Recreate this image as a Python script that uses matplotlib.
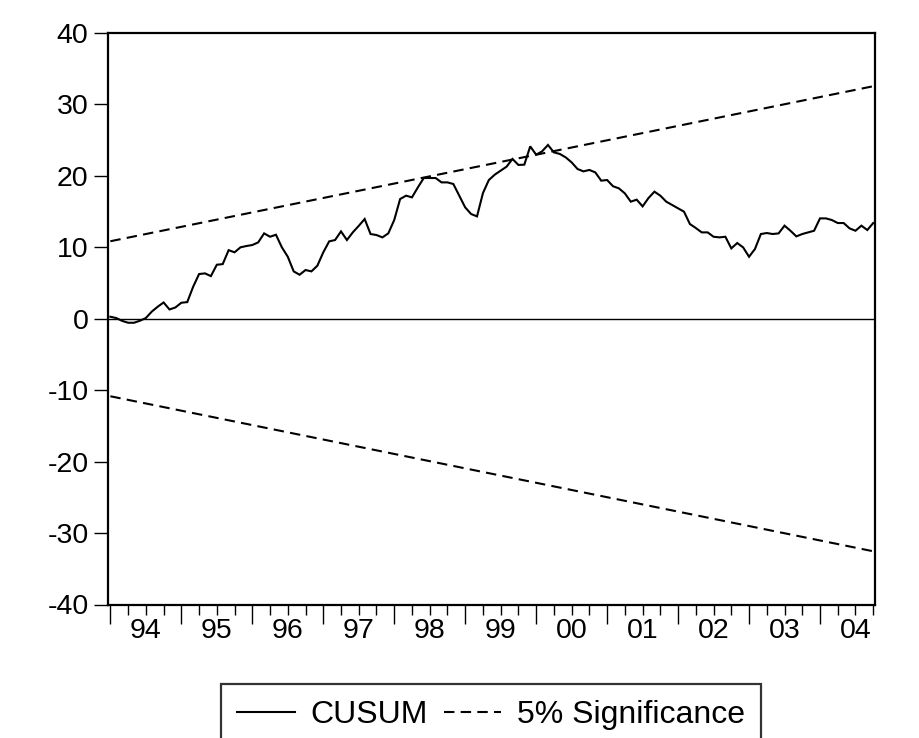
import numpy as np
import matplotlib
matplotlib.use("Agg")
import matplotlib.pyplot as plt
from matplotlib.transforms import blended_transform_factory

plt.rcParams['font.family'] = ['Liberation Sans', 'DejaVu Sans']

# ---- data (monthly, Jan 1994 .. Oct 2004) ----
cusum = [0.28, 0.10, -0.30, -0.56, -0.56, -0.28, 0.10, 1.00, 1.68, 2.28,
         1.30, 1.58, 2.24, 2.33, 4.48, 6.26, 6.35, 5.97, 7.56, 7.65,
         9.60, 9.30, 10.00, 10.18, 10.32, 10.69, 11.95, 11.48, 11.76, 10.00,
         8.68, 6.63, 6.16, 6.82, 6.63, 7.42, 9.29, 10.83, 11.02, 12.23,
         11.02, 12.10, 13.00, 13.96, 11.86, 11.72, 11.39, 11.95, 13.82, 16.76,
         17.23, 16.99, 18.39, 19.70, 19.70, 19.70, 19.09, 19.09, 18.86, 17.23,
         15.59, 14.66, 14.33, 17.58, 19.42, 20.17, 20.73, 21.29, 22.37, 21.53,
         21.57, 24.13, 22.97, 23.43, 24.33, 23.29, 23.07, 22.59, 21.89, 20.96,
         20.63, 20.83, 20.49, 19.33, 19.42, 18.55, 18.25, 17.55, 16.39, 16.67,
         15.73, 16.90, 17.79, 17.23, 16.39, 15.92, 15.45, 14.99, 13.26, 12.70,
         12.09, 12.09, 11.48, 11.39, 11.48, 9.85, 10.60, 9.99, 8.68, 9.76,
         11.86, 12.00, 11.86, 11.95, 13.03, 12.32, 11.53, 11.86, 12.09, 12.32,
         14.05, 14.05, 13.82, 13.40, 13.40, 12.65, 12.32, 13.03, 12.42, 13.40]
sig_start = 10.85   # upper 5% band at first observation
sig_end = 32.55     # upper 5% band at last observation
year_labels = ['94', '95', '96', '97', '98', '99', '00', '01', '02', '03', '04']
y_ticks = [-40, -30, -20, -10, 0, 10, 20, 30, 40]

n = len(cusum)
t = np.arange(n)

fig = plt.figure(figsize=(9.2, 7.38), dpi=100)
ax = fig.add_axes([108/920, 1-604.5/738, (875-108)/920, (604.5-33)/738])

ax.plot(t, cusum, color='black', lw=1.5, label='CUSUM', solid_joinstyle='miter')
ax.plot([t[0], t[-1]], [sig_start, sig_end], color='black', lw=1.5,
        ls=(0, (5, 3)), label='5% Significance')
ax.plot([t[0], t[-1]], [-sig_start, -sig_end], color='black', lw=1.5,
        ls=(0, (5, 3)))
ax.axhline(0, color='black', lw=1.0)

ax.set_xlim(-0.4, n - 1 + 0.3)
ax.set_ylim(-40, 40)

for s in ax.spines.values():
    s.set_linewidth(1.6)

ax.set_yticks(y_ticks)
ax.set_yticklabels([str(v) for v in y_ticks])
ax.tick_params(axis='y', direction='out', length=10, width=1.0, pad=4,
               labelsize=20.5)

major = np.arange(0, n, 12)
minor = np.arange(0, n, 3)
ax.set_xticks(major)
ax.set_xticklabels([''] * len(major))
ax.set_xticks(minor, minor=True)
ax.tick_params(axis='x', which='major', direction='out', length=14, width=1.0)
ax.tick_params(axis='x', which='minor', direction='out', length=7, width=1.0)

trans = blended_transform_factory(ax.transData, ax.transAxes)
for k, lab in enumerate(year_labels):
    ax.text(6 + 12 * k, -0.047, lab, transform=trans, ha='center', va='center',
            fontsize=20.5)

leg = fig.legend(loc='upper center', bbox_to_anchor=(0.534, 1 - 684/738), ncol=2,
                 fontsize=23, frameon=True, fancybox=False, edgecolor='black',
                 handlelength=1.8, columnspacing=0.5, handletextpad=0.5,
                 borderpad=0.5, borderaxespad=0.0)
leg.get_frame().set_linewidth(1.6)

fig.savefig('out.png', dpi=100)
